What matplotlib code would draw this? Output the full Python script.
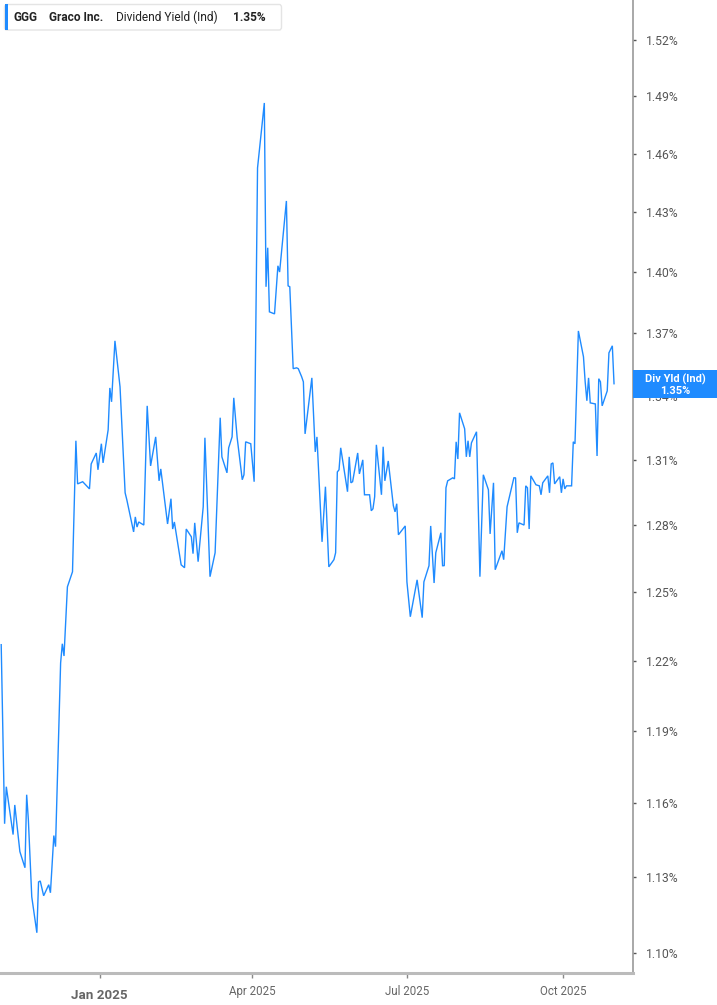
import matplotlib
matplotlib.use("Agg")
import matplotlib.pyplot as plt
import matplotlib.dates as mdates
import matplotlib.ticker as mticker
from matplotlib.patches import Rectangle, FancyBboxPatch
import numpy as np
import pandas as pd

plt.rcParams['font.family'] = ['Roboto', 'DejaVu Sans']

dates = [
    "2024-11-04", "2024-11-06", "2024-11-07", "2024-11-11", "2024-11-12", "2024-11-15",
    "2024-11-18", "2024-11-19", "2024-11-20", "2024-11-22", "2024-11-25", "2024-11-26",
    "2024-11-27", "2024-11-29", "2024-12-02", "2024-12-03", "2024-12-05", "2024-12-06",
    "2024-12-09", "2024-12-10", "2024-12-11", "2024-12-13", "2024-12-16", "2024-12-18",
    "2024-12-19", "2024-12-22", "2024-12-26", "2024-12-27", "2024-12-30", "2024-12-31",
    "2025-01-02", "2025-01-03", "2025-01-06", "2025-01-07", "2025-01-08", "2025-01-10",
    "2025-01-13", "2025-01-16", "2025-01-17", "2025-01-21", "2025-01-22", "2025-01-23",
    "2025-01-24", "2025-01-27", "2025-01-29", "2025-01-31", "2025-02-03", "2025-02-05",
    "2025-02-06", "2025-02-10", "2025-02-12", "2025-02-13", "2025-02-14", "2025-02-18",
    "2025-02-20", "2025-02-21", "2025-02-24", "2025-02-25", "2025-02-26", "2025-02-28",
    "2025-03-03", "2025-03-04", "2025-03-07", "2025-03-10", "2025-03-13", "2025-03-14",
    "2025-03-17", "2025-03-18", "2025-03-20", "2025-03-21", "2025-03-23", "2025-03-26",
    "2025-03-27", "2025-03-28", "2025-03-31", "2025-04-02", "2025-04-04", "2025-04-08",
    "2025-04-09", "2025-04-10", "2025-04-11", "2025-04-14", "2025-04-16", "2025-04-17",
    "2025-04-21", "2025-04-22", "2025-04-23", "2025-04-25", "2025-04-27", "2025-04-28",
    "2025-04-30", "2025-05-01", "2025-05-02", "2025-05-06", "2025-05-08", "2025-05-09",
    "2025-05-12", "2025-05-14", "2025-05-16", "2025-05-19", "2025-05-20", "2025-05-21",
    "2025-05-22", "2025-05-23", "2025-05-27", "2025-05-28", "2025-05-29", "2025-05-30",
    "2025-06-02", "2025-06-03", "2025-06-05", "2025-06-06", "2025-06-09", "2025-06-10",
    "2025-06-11", "2025-06-12", "2025-06-13", "2025-06-16", "2025-06-17", "2025-06-18",
    "2025-06-20", "2025-06-23", "2025-06-24", "2025-06-25", "2025-06-26", "2025-06-30",
    "2025-07-01", "2025-07-03", "2025-07-07", "2025-07-10", "2025-07-11", "2025-07-14",
    "2025-07-15", "2025-07-17", "2025-07-18", "2025-07-21", "2025-07-22", "2025-07-23",
    "2025-07-24", "2025-07-25", "2025-07-28", "2025-07-29", "2025-07-30", "2025-07-31",
    "2025-08-01", "2025-08-04", "2025-08-05", "2025-08-06", "2025-08-07", "2025-08-08",
    "2025-08-11", "2025-08-13", "2025-08-15", "2025-08-18", "2025-08-19", "2025-08-21",
    "2025-08-22", "2025-08-26", "2025-08-27", "2025-08-29", "2025-09-02", "2025-09-03",
    "2025-09-04", "2025-09-05", "2025-09-08", "2025-09-09", "2025-09-10", "2025-09-11",
    "2025-09-12", "2025-09-15", "2025-09-17", "2025-09-18", "2025-09-19", "2025-09-22",
    "2025-09-23", "2025-09-24", "2025-09-25", "2025-09-26", "2025-09-29", "2025-09-30",
    "2025-10-01", "2025-10-02", "2025-10-03", "2025-10-06", "2025-10-07", "2025-10-08",
    "2025-10-10", "2025-10-13", "2025-10-14", "2025-10-15", "2025-10-16", "2025-10-17",
    "2025-10-20", "2025-10-21", "2025-10-22", "2025-10-23", "2025-10-24", "2025-10-27",
    "2025-10-28", "2025-10-30", "2025-10-31",
]

div_yield = [
    1.2270, 1.1516, 1.1668, 1.1472, 1.1593, 1.1403,
    1.1338, 1.1635, 1.1532, 1.1222, 1.1080, 1.1281,
    1.1285, 1.1226, 1.1270, 1.1238, 1.1468, 1.1423,
    1.2191, 1.2274, 1.2221, 1.2524, 1.2591, 1.3189,
    1.2989, 1.2999, 1.2966, 1.3081, 1.3132, 1.3054,
    1.3175, 1.3086, 1.3240, 1.3438, 1.3372, 1.3664,
    1.3443, 1.2948, 1.2916, 1.2770, 1.2838, 1.2792,
    1.2815, 1.2801, 1.3353, 1.3072, 1.3207, 1.3003,
    1.3058, 1.2806, 1.2921, 1.2783, 1.2815, 1.2622,
    1.2609, 1.2783, 1.2748, 1.2672, 1.2811, 1.2636,
    1.2884, 1.3203, 1.2569, 1.2676, 1.3297, 1.3114,
    1.3040, 1.3156, 1.3207, 1.3391, 1.3203, 1.3008,
    1.3031, 1.3184, 1.3175, 1.2999, 1.4527, 1.4865,
    1.3928, 1.4122, 1.3805, 1.3795, 1.4032, 1.4001,
    1.4358, 1.3933, 1.3928, 1.3530, 1.3534, 1.3530,
    1.3491, 1.3467, 1.3221, 1.3486, 1.3137, 1.3207,
    1.2725, 1.2976, 1.2613, 1.2645, 1.2676, 1.3044,
    1.3054, 1.3156, 1.2953, 1.3114, 1.2994, 1.2999,
    1.3132, 1.3035, 1.3100, 1.2939, 1.2939, 1.2866,
    1.2875, 1.2930, 1.3170, 1.2939, 1.3161, 1.3003,
    1.3095, 1.2889, 1.2861, 1.2898, 1.2757, 1.2797,
    1.2546, 1.2392, 1.2555, 1.2388, 1.2546, 1.2618,
    1.2797, 1.2541, 1.2676, 1.2766, 1.2618, 1.2618,
    1.2971, 1.3003, 1.3017, 1.3012, 1.3184, 1.3104,
    1.3320, 1.3245, 1.3114, 1.3189, 1.3114, 1.3179,
    1.3231, 1.2569, 1.3031, 1.2962, 1.2761, 1.2994,
    1.2600, 1.2685, 1.2645, 1.2884, 1.3017, 1.3017,
    1.2766, 1.2811, 1.2801, 1.2980, 1.2971, 1.2783,
    1.3026, 1.2985, 1.2980, 1.2939, 1.2994, 1.3026,
    1.2948, 1.3081, 1.3086, 1.2989, 1.3022, 1.2948,
    1.3012, 1.2966, 1.2980, 1.2980, 1.3184, 1.3175,
    1.3712, 1.3587, 1.3467, 1.3377, 1.3486, 1.3367,
    1.3362, 1.3118, 1.3482, 1.3467, 1.3353, 1.3424,
    1.3606, 1.3640, 1.3458,
]

y_ticks = [1.10, 1.13, 1.16, 1.19, 1.22, 1.25, 1.28, 1.31, 1.34, 1.37, 1.40, 1.43, 1.46, 1.49, 1.52]
x_ticks = ["2025-01-01", "2025-04-01", "2025-07-01", "2025-10-01"]
x_tick_labels = ["Jan 2025", "Apr 2025", "Jul 2025", "Oct 2025"]

ticker_sym = "GGG"
company = "Graco Inc."
metric = "Dividend Yield (Ind)"
last_label = "1.35%"
tag_title = "Div Yld (Ind)"

LINE = "#1f8bff"
W, H = 717, 1005

fig = plt.figure(figsize=(W / 100, H / 100), dpi=100)
ax = fig.add_axes([0, 1 - 973.3 / H, 632.7 / W, 973.3 / H])

x = pd.to_datetime(dates)
ax.plot(x, div_yield, color=LINE, lw=1.0, solid_joinstyle="miter")

ax.set_yscale("log")
ax.set_ylim(1.0922, 1.5417)
ax.set_xlim(pd.Timestamp("2024-11-03 07:00"), pd.Timestamp("2025-11-11"))

ax.yaxis.set_major_locator(mticker.FixedLocator(y_ticks))
ax.yaxis.set_minor_locator(mticker.NullLocator())
ax.yaxis.set_major_formatter(mticker.FixedFormatter([f"{v:.2f}%" for v in y_ticks]))
ax.yaxis.tick_right()
ax.tick_params(axis="y", which="major", direction="out", length=2.5, width=1,
               color="#555555", labelsize=8.7, labelcolor="#555555", pad=7)

xt = pd.to_datetime(x_ticks)
ax.set_xticks(xt)
ax.set_xticklabels(x_tick_labels)
ax.tick_params(axis="x", direction="out", length=3.5, width=1, color="#888888",
               labelsize=8.3, labelcolor="#666666", pad=5)
xl = ax.get_xticklabels()
xl[0].set_fontweight("bold")
xl[0].set_fontsize(9.6)
xl[0].set_y(-0.0035)

for s in ["top", "left"]:
    ax.spines[s].set_visible(False)
ax.spines["right"].set_color("#999999")
ax.spines["right"].set_linewidth(1.2)
ax.spines["bottom"].set_color("#bbbbbb")
ax.spines["bottom"].set_linewidth(2.2)
ax.grid(False)

# legend header box
def px(xp, yp):
    return xp / W, 1 - yp / H

hdr = FancyBboxPatch(px(4.5, 30)[0:2], 277 / W, 25.5 / H,
                     boxstyle="round,pad=0,rounding_size=0.003",
                     transform=fig.transFigure, facecolor="white",
                     edgecolor="#e4e4e4", linewidth=1.0, zorder=5)
fig.patches.append(hdr)
fig.patches.append(Rectangle(px(4.5, 30), 3 / W, 25.5 / H, transform=fig.transFigure,
                             facecolor=LINE, edgecolor="none", zorder=6))
ty = 17.5
fig.text(*px(13.3, ty), ticker_sym, fontsize=8.6, fontweight="bold", color="#222222",
         va="center", ha="left", zorder=7)
fig.text(*px(49.3, ty), company, fontsize=8.6, fontweight="bold", color="#222222",
         va="center", ha="left", zorder=7)
fig.text(*px(116, ty), metric, fontsize=8.6, color="#222222",
         va="center", ha="left", zorder=7)
fig.text(*px(233.3, ty), last_label, fontsize=8.6, fontweight="bold", color="#222222",
         va="center", ha="left", zorder=7)

# right-side value tag
fig.patches.append(Rectangle(px(632.7, 398.3), (W - 632.7) / W, 28.3 / H,
                             transform=fig.transFigure, facecolor=LINE,
                             edgecolor="none", zorder=8))
fig.text(*px(675, 379.3), tag_title, fontsize=7.9, fontweight="bold", color="white",
         ha="center", va="center", zorder=9)
fig.text(*px(675, 390.7), last_label, fontsize=7.9, fontweight="bold", color="white",
         ha="center", va="center", zorder=9)

fig.savefig("out.png", dpi=100)
